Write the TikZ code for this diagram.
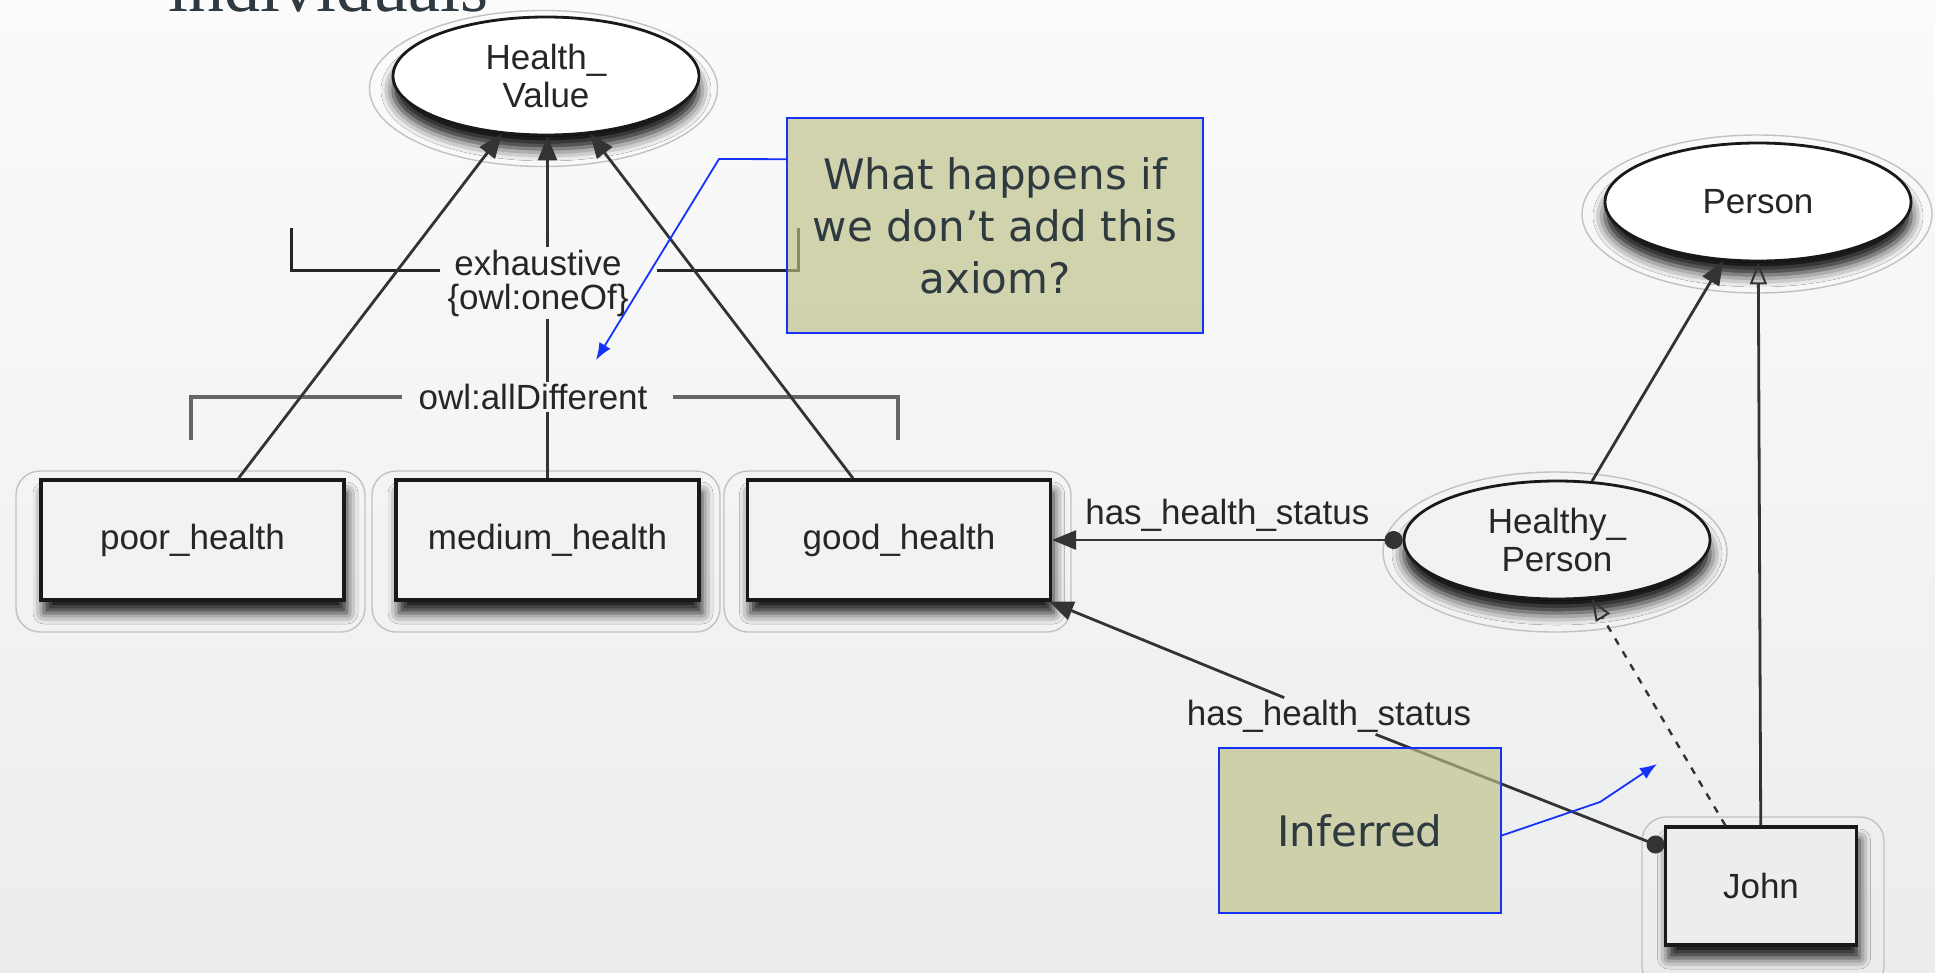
\documentclass[tikz,border=0pt]{standalone}
\usepackage{fontspec}
\setmainfont{Liberation Sans}
\newfontfamily\serifface{Liberation Serif}
\newfontfamily\noteface{DejaVu Sans}
\usetikzlibrary{arrows.meta,calc,shapes.geometric,shadows.blur}

\definecolor{ink}{HTML}{2E3A40}
\definecolor{edgegray}{HTML}{333333}
\definecolor{notefill}{HTML}{BDC086}
\definecolor{noteblue}{RGB}{20,50,250}
\definecolor{halogray}{HTML}{C2C2C2}
\definecolor{bgtop}{RGB}{255,255,255}
\definecolor{bgmid}{RGB}{250,250,250}
\definecolor{bglow}{RGB}{240,241,241}
\definecolor{bgbot}{RGB}{227,228,228}

\pgfdeclareverticalshading{pagebg}{100bp}{%
  color(0bp)=(bgbot); color(40bp)=(bglow); color(72bp)=(bgmid); color(88bp)=(bgtop); color(100bp)=(bgtop)}

\tikzset{
  labelfont/.style={font=\fontsize{35}{38}\selectfont},
  cls/.style={ellipse, draw=black!90, line width=2.8pt, fill=white,
    minimum width=306pt, minimum height=118pt, inner sep=0pt, align=center,
    text=black!85, labelfont,
    blur shadow={shadow xshift=0pt, shadow yshift=-14pt, shadow blur radius=12pt, shadow opacity=95}},
  indiv/.style={rectangle, draw=black!90, line width=3.2pt, fill=black!5,
    minimum width=303pt, minimum height=120pt, inner sep=0pt, align=center,
    text=black!85, labelfont,
    blur shadow={shadow xshift=3pt, shadow yshift=-13pt, shadow blur radius=11pt, shadow opacity=90}},
  halo/.style={draw=halogray, line width=1.4pt},
  lbl/.style={labelfont, text=black!85, inner sep=2pt},
  link/.style={draw=edgegray, line width=2.8pt},
  arr/.style={link, -{Triangle[length=24pt,width=19pt]}},
  openarr/.style={link, -{Triangle[open,length=22pt,width=17pt,line width=2pt]}},
  prop/.style={link, {Circle[length=18pt]}-{Triangle[length=24pt,width=19pt]}},
  inferred/.style={draw=edgegray, line width=2.4pt, dash pattern=on 7pt off 8pt,
    -{Triangle[open,length=22pt,width=16pt,line width=2pt]}},
  bracketdark/.style={draw=black!85, line width=3pt},
  bracketgray/.style={draw=black!60, line width=4.5pt},
  note/.style={rectangle, draw=noteblue, line width=1.6pt, fill=notefill,
    fill opacity=0.65, draw opacity=1, text opacity=1, text=ink,
    font=\noteface\fontsize{42}{52}\selectfont, align=center, inner sep=0pt},
  callout/.style={draw=noteblue, line width=1.8pt, -{Latex[length=17pt,width=13pt]}},
}

\begin{document}
\begin{tikzpicture}[x=1pt,y=-1pt]
\useasboundingbox (0,0) rectangle (1935,972);
\clip (0,0) rectangle (1935,972);
\shade[shading=pagebg] (0,0) rectangle (1935,972);

% heading of the slide, running off the top edge
\node[anchor=base west, inner sep=0pt, text=ink,
      font=\serifface\fontsize{72}{72}\selectfont] (heading) at (168,11) {individuals};

% halos around the nodes
\draw[halo] (543.5,88.5) ellipse [x radius=174pt, y radius=78pt];
\draw[halo] (1757,214) ellipse [x radius=175pt, y radius=79pt];
\draw[halo] (1555,552) ellipse [x radius=172pt, y radius=80pt];
\draw[halo, rounded corners=24pt] (16,471) rectangle (365,632);
\draw[halo, rounded corners=24pt] (372,471) rectangle (720,632);
\draw[halo, rounded corners=24pt] (724,471) rectangle (1071,632);
\draw[halo, rounded corners=24pt] (1642,817) rectangle (1884,990);

% classes
\node[cls] (HV) at (546,76) {Health\_\\Value};
\node[cls] (Person) at (1758,202) {Person};
\node[cls, fill=black!5] (Healthy) at (1557,540) {Healthy\_\\Person};

% individuals
\node[indiv] (poor) at (192.5,540) {poor\_health};
\node[indiv] (medium) at (547.5,540) {medium\_health};
\node[indiv] (good) at (899,540) {good\_health};
\node[indiv, minimum width=191pt, minimum height=118pt, fill=black!7] (John) at (1761,886) {John};

% axiom labels
\node[lbl, align=center, font=\fontsize{35}{34}\selectfont] (exh) at (538,283) {exhaustive\\\{owl:oneOf\}};
\node[lbl] (alld) at (533,397) {owl:allDifferent};

% brackets of the two axioms
\draw[bracketdark] (291,228) |- (440,270);
\draw[bracketdark] (657,270) -| (798,228);
\draw[bracketgray] (191,440) |- (402,397);
\draw[bracketgray] (673,397) -| (898,440);

% instance-of links to Health_Value
\draw[arr] ($(poor.north west)!0.65!(poor.north east)$) -- (HV);
\draw[arr] ($(good.north west)!0.35!(good.north east)$) -- (HV);
\draw[link] (medium.north) -- (alld.south -| medium.north);
\draw[link] (alld.north -| medium.north) -- (exh.south -| medium.north);
\draw[arr] (exh.north -| medium.north) -- (HV.south -| medium.north);

% Person side
\draw[arr] (Healthy) -- (Person);
\draw[openarr] (John) -- (Person);
\draw[inferred] (John) -- (Healthy);

% has_health_status properties
\draw[prop] (Healthy) -- node[lbl, midway, above=5pt] (hhs1) {has\_health\_status} (good);
\node[lbl] (hhs2) at (1329,716) {has\_health\_status};
\draw[link, {Circle[length=18pt]}-] (John) -- (hhs2);
\draw[arr] (hhs2) -- (good);

% notes
\node[note, minimum width=416pt, minimum height=215pt] (Q) at (995,225.5)
  {What happens if\\we don’t add this\\axiom?};
\node[note, minimum width=282pt, minimum height=165pt] (Inf) at (1360,830.5) {Inferred};

\coordinate (qbend) at (719,159);
\coordinate (qtip) at (596,360);
\draw[callout] ($(Q.north west)+(0,42)$) -- (qbend) -- (qtip);

\coordinate (ibend) at (1600,802);
\coordinate (itip) at (1657,764);
\draw[callout] ($(Inf.east)+(0,5)$) -- (ibend) -- (itip);
\end{tikzpicture}
\end{document}
